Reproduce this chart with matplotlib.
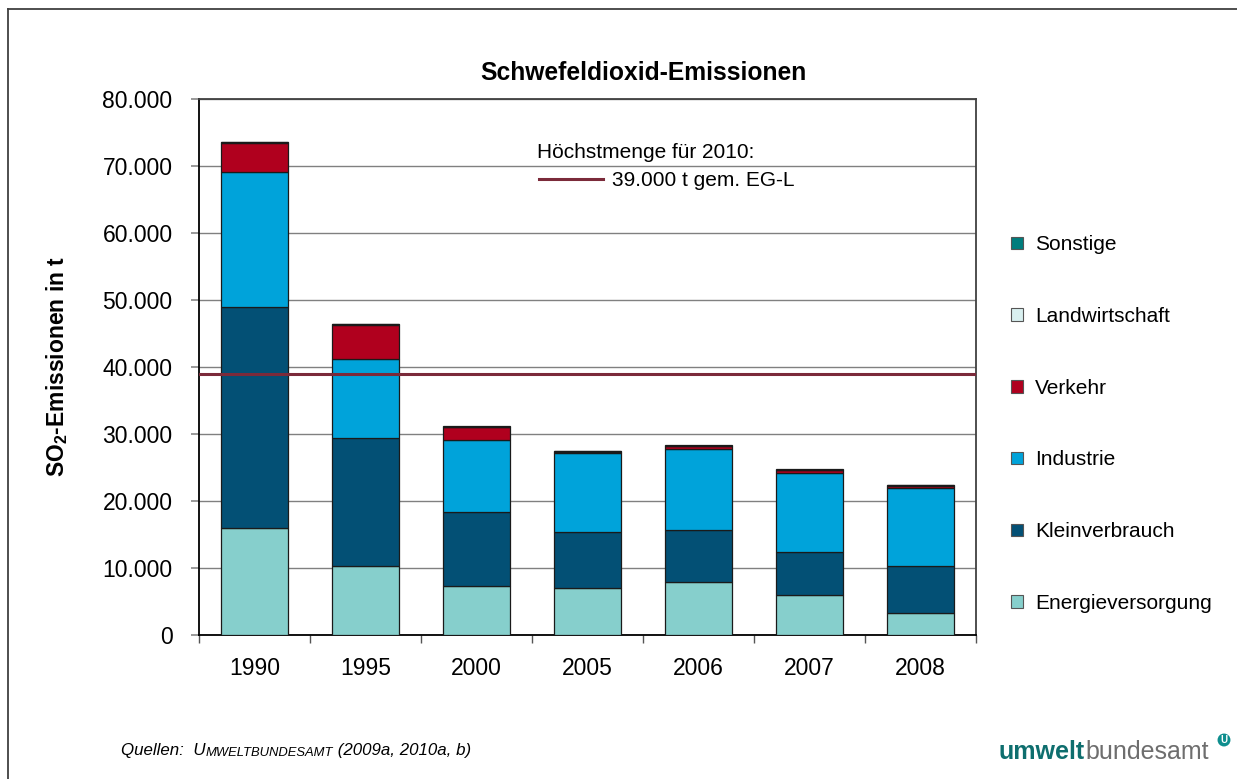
import matplotlib
matplotlib.use('Agg')
import matplotlib.pyplot as plt
from matplotlib.lines import Line2D
from matplotlib.patches import Patch
from matplotlib.offsetbox import TextArea, HPacker, AnchoredOffsetbox

plt.rcParams['font.family'] = ['Liberation Sans', 'DejaVu Sans']
plt.rcParams['mathtext.fontset'] = 'custom'
plt.rcParams['mathtext.rm'] = 'Liberation Sans'
plt.rcParams['mathtext.bf'] = 'Liberation Sans:bold'

# ---- data ----
years = ['1990', '1995', '2000', '2005', '2006', '2007', '2008']
energie = [15900, 10350, 7250, 7000, 7950, 5950, 3250]
kleinverbrauch = [33100, 19050, 11100, 8300, 7700, 6400, 7050]
industrie = [20150, 11850, 10700, 11800, 12150, 11900, 11700]
verkehr = [4350, 5050, 1950, 250, 400, 350, 300]
landwirtschaft = [50, 50, 50, 50, 50, 50, 50]
sonstige = [100, 100, 100, 100, 100, 100, 100]
limit_2010 = 39000
y_ticks = [0, 10000, 20000, 30000, 40000, 50000, 60000, 70000, 80000]
y_labels = ['0', '10.000', '20.000', '30.000', '40.000', '50.000', '60.000', '70.000', '80.000']

series = [
    ('Energieversorgung', energie, '#86CFCC'),
    ('Kleinverbrauch', kleinverbrauch, '#035075'),
    ('Industrie', industrie, '#00A3DA'),
    ('Verkehr', verkehr, '#B0001E'),
    ('Landwirtschaft', landwirtschaft, '#D9F0F0'),
    ('Sonstige', sonstige, '#007D7D'),
]

W, H = 1237, 779
fig = plt.figure(figsize=(W / 100, H / 100), dpi=100)
ax = fig.add_axes([199 / W, 1 - 635 / H, (976 - 199) / W, (635 - 99) / H])

x = list(range(len(years)))
bottom = [0] * len(years)
handles = []
for name, vals, col in series:
    ax.bar(x, vals, width=0.6, bottom=bottom, color=col, edgecolor='#1a1a1a',
           linewidth=0.9, zorder=3)
    bottom = [b + v for b, v in zip(bottom, vals)]
    handles.append(Patch(facecolor=col, edgecolor='#555555', linewidth=0.8, label=name))

ax.axhline(limit_2010, color='#7B2A3A', linewidth=2.2, zorder=4)

ax.set_xlim(-0.5, len(years) - 0.5)
ax.set_ylim(0, 80000)
ax.set_yticks(y_ticks)
ax.set_yticklabels(y_labels, fontsize=16.5)
ax.set_xticks(x)
ax.set_xticklabels(years, fontsize=16.5)
ax.tick_params(axis='x', which='major', length=0, pad=16)
ax.set_xticks([i - 0.5 for i in range(len(years) + 1)], minor=True)
ax.tick_params(axis='x', which='minor', length=6, color='#555555', width=1)
ax.tick_params(axis='y', length=6, color='#888888', width=1.2, pad=13)
ax.yaxis.grid(True, color='#808080', linewidth=1, zorder=0)
ax.set_axisbelow(True)
ax.spines['left'].set_color('#000000')
ax.spines['bottom'].set_color('#000000')
ax.spines['top'].set_color('#404040')
ax.spines['right'].set_color('#404040')
for s in ax.spines.values():
    s.set_linewidth(1.3)

# y label
fig.text(57 / W, 1 - 366 / H, r'SO$_\mathbf{2}$-Emissionen in t', rotation=90,
         fontsize=16.5, fontweight='bold', ha='center', va='center')

# title
fig.text(643 / W, 1 - 73 / H, 'Schwefeldioxid-Emissionen', fontsize=17.7,
         fontweight='bold', ha='center', va='center')

# limit annotation
fig.text(537 / W, 1 - 152 / H, 'Höchstmenge für 2010:', fontsize=15,
         ha='left', va='center')
fig.add_artist(Line2D([539 / W, 603 / W], [1 - 179 / H, 1 - 179 / H],
                      color='#7B2A3A', linewidth=2.2))
fig.text(612 / W, 1 - 180 / H, '39.000 t gem. EG-L', fontsize=15,
         ha='left', va='center')

# legend
leg = fig.legend(handles=handles[::-1], loc='upper left',
                 bbox_to_anchor=(1003 / W, 1 - 227 / H), frameon=False,
                 fontsize=15, handlelength=0.55, handleheight=0.55,
                 handletextpad=0.6, labelspacing=2.53, borderaxespad=0)

# footer source with small caps imitation
src = HPacker(children=[
    TextArea('Quellen:  U', textprops=dict(fontsize=12.2, style='italic')),
    TextArea('MWELTBUNDESAMT', textprops=dict(fontsize=9.4, style='italic')),
    TextArea(' (2009a, 2010a, b)', textprops=dict(fontsize=12.2, style='italic')),
], align='baseline', pad=0, sep=0)
fig.add_artist(AnchoredOffsetbox(loc='center left', child=src, pad=0, frameon=False,
                                 bbox_to_anchor=(121 / W, 1 - 751 / H),
                                 bbox_transform=fig.transFigure, borderpad=0))

# logo text
logo = HPacker(children=[
    TextArea('umwelt', textprops=dict(fontsize=18, fontweight='bold', color='#0E6E6E')),
    TextArea('bundesamt', textprops=dict(fontsize=18, color='#6E6E6E')),
], align='baseline', pad=0, sep=0)
fig.add_artist(AnchoredOffsetbox(loc='center left', child=logo, pad=0, frameon=False,
                                 bbox_to_anchor=(999 / W, 1 - 752 / H),
                                 bbox_transform=fig.transFigure, borderpad=0))
fig.text(1224 / W, 1 - 740 / H, 'U', fontsize=7, fontweight='bold', color='white',
         ha='center', va='center',
         bbox=dict(boxstyle='circle,pad=0.15', facecolor='#0E8E8E', edgecolor='none'))

# outer frame (left and top)
fig.add_artist(Line2D([8 / W, 8 / W], [0, 1 - 9 / H], color='#404040', linewidth=1.3))
fig.add_artist(Line2D([8 / W, 1], [1 - 9 / H, 1 - 9 / H], color='#404040', linewidth=1.3))

fig.savefig('out.png', dpi=100)
